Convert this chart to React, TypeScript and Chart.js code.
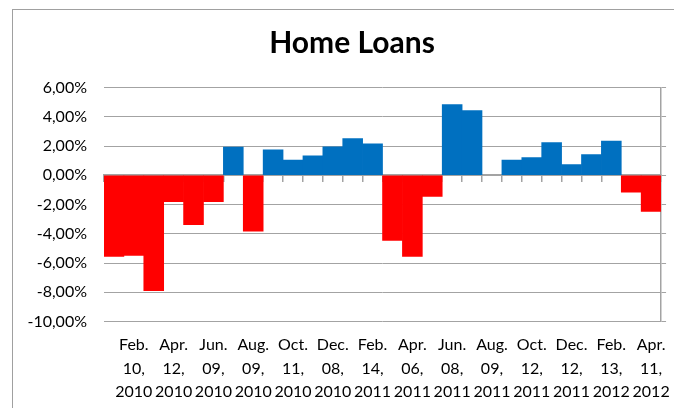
import React, { useEffect, useRef } from "react";
import { Chart, registerables } from "chart.js";

Chart.register(...registerables);

const title = "Home Loans";

// 28 monthly categories; only every second one carries a label in the picture
const categories: (string | string[])[] = [
  "", ["Feb.", "10,", "2010"],
  "", ["Apr.", "12,", "2010"],
  "", ["Jun.", "09,", "2010"],
  "", ["Aug.", "09,", "2010"],
  "", ["Oct.", "11,", "2010"],
  "", ["Dec.", "08,", "2010"],
  "", ["Feb.", "14,", "2011"],
  "", ["Apr.", "06,", "2011"],
  "", ["Jun.", "08,", "2011"],
  "", ["Aug.", "09,", "2011"],
  "", ["Oct.", "12,", "2011"],
  "", ["Dec.", "12,", "2011"],
  "", ["Feb.", "13,", "2012"],
  "", ["Apr.", "11,", "2012"],
];

// values in percent (null = no bar visible)
const values: (number | null)[] = [
  -5.55, -5.48, -7.9, -1.8, -3.38, -1.8, 1.92, -3.83, 1.74, 1.03,
  1.33, 1.94, 2.51, 2.15, -4.45, -5.55, -1.44, 4.84, 4.43, null,
  1.03, 1.21, 2.24, 0.73, 1.42, 2.33, -1.16, -2.47,
];

const yMin = -10;
const yMax = 6;
const yStep = 2;

const positiveColor = "#0070C0";
const negativeColor = "#FF0000";
const emptyColor = "rgba(0,0,0,0)";
const gridColor = "#A3A3A3";
const FONT = "Lato, 'Open Sans', sans-serif";

function formatPct(v: number): string {
  return v.toFixed(2).replace(".", ",") + "%";
}

function barColor(v: number | null): string {
  if (v === null || v === 0) return emptyColor;
  return v < 0 ? negativeColor : positiveColor;
}

export default function App() {
  const canvasRef = useRef<HTMLCanvasElement | null>(null);

  useEffect(() => {
    if (!canvasRef.current) return;
    const chart = new Chart(canvasRef.current, {
      type: "bar",
      data: {
        labels: categories,
        datasets: [
          {
            data: values,
            backgroundColor: values.map(barColor),
            borderWidth: 0,
            barPercentage: 1,
            categoryPercentage: 1,
            xAxisID: "x",
            yAxisID: "y",
          },
        ],
      },
      options: {
        animation: false,
        responsive: false,
        maintainAspectRatio: false,
        layout: { padding: { left: 14, right: 0, top: 0, bottom: 0 } },
        plugins: {
          legend: { display: false },
          tooltip: { enabled: false },
          title: {
            display: true,
            text: title,
            color: "#000",
            font: { family: FONT, size: 30, weight: "bold", lineHeight: 1.2 },
            padding: { top: 17.5, bottom: 26 },
          },
        },
        scales: {
          x: {
            type: "category",
            position: "bottom",
            offset: true,
            grid: { display: false, drawTicks: false, offset: true },
            border: { display: false },
            ticks: {
              autoSkip: false,
              maxRotation: 0,
              minRotation: 0,
              padding: 12,
              color: "#000",
              font: { family: FONT, size: 16, lineHeight: 1.47 },
            },
            afterFit: (s: any) => {
              s.height = 86.5;
            },
          },
          x2: {
            type: "category",
            axis: "x",
            position: { y: 0 },
            offset: true,
            z: 1,
            grid: {
              display: true,
              drawOnChartArea: false,
              drawTicks: true,
              tickLength: 6,
              offset: true,
              color: gridColor,
              lineWidth: 1.5,
            },
            border: { display: true, color: gridColor, width: 2 },
            ticks: { display: false },
          },
          y: {
            type: "linear",
            position: "left",
            min: yMin,
            max: yMax,
            grid: { color: gridColor, lineWidth: 1, drawTicks: false },
            border: { display: false },
            ticks: {
              stepSize: yStep,
              padding: 17,
              color: "#000",
              font: { family: FONT, size: 16 },
              callback: (v: any) => formatPct(Number(v)),
            },
            afterFit: (s: any) => {
              s.width = 82;
            },
          },
          y2: {
            type: "linear",
            position: "right",
            min: yMin,
            max: yMax,
            grid: {
              drawOnChartArea: false,
              drawTicks: true,
              tickLength: 5,
              color: gridColor,
              lineWidth: 1,
            },
            border: { display: true, color: gridColor, width: 1.5 },
            ticks: { stepSize: yStep, display: false },
            afterFit: (s: any) => {
              s.width = 18;
            },
          },
        },
      },
    } as any);
    return () => chart.destroy();
  }, []);

  return (
    <div style={{ position: "relative", width: 674, height: 400, overflow: "hidden" }}>
      <div
        style={{
          position: "absolute",
          left: 3.5,
          top: 1,
          width: 900,
          height: 700,
          border: "1.5px solid #A0A0A0",
          boxSizing: "border-box",
        }}
      />
      <canvas
        ref={canvasRef}
        width={674}
        height={400}
        style={{ position: "absolute", left: 0, top: 0, width: 674, height: 400 }}
      />
    </div>
  );
}
